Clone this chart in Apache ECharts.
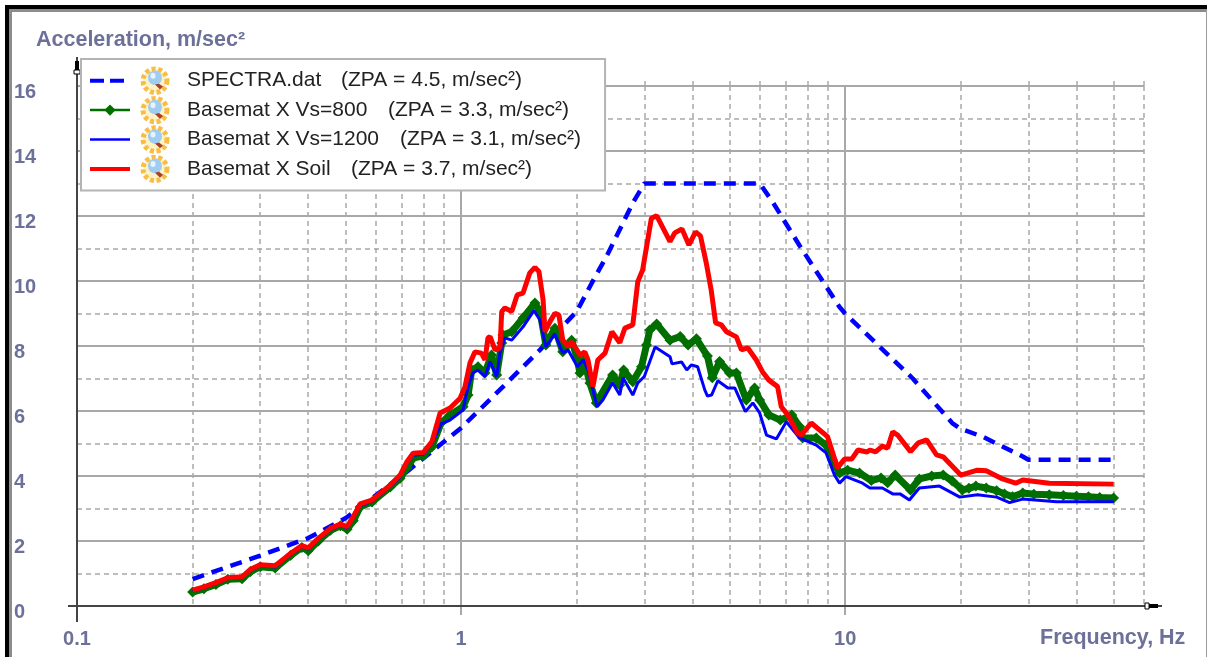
<!DOCTYPE html>
<html><head><meta charset="utf-8">
<style>html,body{margin:0;padding:0;background:#fff}#c{width:1207px;height:657px}</style>
<script src="https://cdn.jsdelivr.net/npm/echarts@6/dist/echarts.min.js"></script>
</head><body><div id="c"></div>
<script>
const majorFreqTicks=[0.1,1,10];
const minorFreqTicks=[0.2,0.3,0.4,0.5,0.6,0.7,0.8,0.9,2,3,4,5,6,7,8,9,20,30,40,50,60];

const spectraFreq=[0.2,0.3,0.4,0.5,0.7,1,1.315,1.605,2,2.19,2.39,2.8,3,6,6.5,7.6,9.67,10,15,19,20,22.8,29,30,50];
const spectraAcc=[0.83,1.55,2.09,2.7,4.0,5.48,6.86,7.88,9.06,9.94,10.75,12.4,13,13,12.4,11.1,9.2,9.0,7.0,5.63,5.45,5.21,4.6,4.5,4.5];

const vs800Freq=[0.2,0.214,0.23,0.247,0.269,0.283,0.3,0.328,0.36,0.385,0.4,0.425,0.457,0.485,0.505,0.524,0.546,0.586,0.654,0.694,0.723,0.75,0.797,0.84,0.887,0.936,1.012,1.043,1.066,1.107,1.154,1.2,1.238,1.276,1.286,1.355,1.45,1.557,1.605,1.663,1.755,1.84,1.94,2,2.04,2.09,2.165,2.25,2.48,2.59,2.65,2.8,2.95,3.04,3.1,3.23,3.5,3.72,3.9,4.1,4.38,4.51,4.71,5,5.21,5.53,5.81,5.99,6.33,6.78,7.26,7.61,7.75,8.41,8.92,9.27,9.67,10.15,10.9,11.7,12.4,12.9,13.5,14.8,15.6,16.8,18,19,20.2,21,21.9,23.3,24.8,26,27.3,29,31,34,37,40,43,46,50];
const vs800Acc=[0.43,0.53,0.66,0.82,0.84,1.06,1.21,1.17,1.56,1.8,1.7,2,2.33,2.47,2.36,2.62,3.05,3.2,3.66,3.93,4.25,4.55,4.62,4.9,5.63,5.88,6.13,6.49,7.26,7.36,7.17,7.72,7.11,8.09,8.34,8.44,8.86,9.32,9.06,8.03,8.55,7.82,8.18,7.67,7.17,7.57,6.86,6.25,7.11,6.8,7.26,6.9,7.36,8.03,8.49,8.68,8.18,8.29,8.03,8.22,7.69,7.02,7.52,7.17,7.17,6.34,6.71,6.34,5.88,5.72,5.88,5.52,5.17,5.17,4.95,4.49,4.09,4.18,4.09,3.86,3.94,3.79,4.03,3.57,3.91,4.0,4.03,3.85,3.57,3.62,3.69,3.63,3.55,3.45,3.36,3.48,3.44,3.42,3.4,3.38,3.36,3.34,3.32];

const vs1200Freq=[0.2,0.214,0.23,0.247,0.269,0.283,0.3,0.328,0.36,0.385,0.4,0.425,0.457,0.485,0.505,0.524,0.546,0.586,0.654,0.694,0.723,0.75,0.797,0.84,0.887,0.936,1.012,1.043,1.074,1.107,1.154,1.19,1.238,1.263,1.3,1.355,1.45,1.548,1.605,1.663,1.755,1.84,1.9,2.01,2.08,2.14,2.205,2.26,2.34,2.48,2.59,2.64,2.8,2.885,3,3.2,3.5,3.54,3.75,3.87,3.98,4.13,4.31,4.38,4.49,4.66,4.95,5.16,5.5,5.75,5.99,6.24,6.62,7.03,7.61,8.41,8.92,9.38,9.67,10.05,11.1,11.6,12.5,13.3,13.9,14.7,15.6,17.6,19.9,22.1,24.8,26.8,29,35.5,50];
const vs1200Acc=[0.46,0.56,0.69,0.84,0.87,1.1,1.24,1.2,1.58,1.82,1.75,2.04,2.35,2.48,2.4,2.7,3.09,3.22,3.68,3.97,4.38,4.64,4.67,5,5.6,5.72,6.03,6.75,7.17,7.26,7.06,7.52,7.06,7.78,8.25,8.18,8.59,9.09,8.8,7.97,8.37,7.78,7.88,7.36,7.57,7.26,6.65,6.13,6.34,6.87,6.49,7.02,6.49,6.86,7.06,7.97,7.67,7.45,7.51,7.26,7.42,7.36,6.65,6.46,6.49,6.93,6.71,6.71,5.98,6.25,5.94,5.26,5.14,5.67,5.17,4.95,4.71,4.03,3.78,3.98,3.78,3.63,3.63,3.45,3.45,3.26,3.63,3.69,3.35,3.42,3.35,3.18,3.29,3.21,3.21];

const soilFreq=[0.2,0.214,0.23,0.247,0.269,0.283,0.3,0.328,0.36,0.385,0.4,0.425,0.457,0.485,0.505,0.524,0.546,0.586,0.654,0.694,0.723,0.75,0.797,0.84,0.882,0.936,0.994,1.024,1.055,1.087,1.13,1.154,1.175,1.19,1.226,1.263,1.276,1.3,1.355,1.4,1.45,1.51,1.557,1.595,1.635,1.654,1.704,1.755,1.798,1.84,1.9,1.94,1.99,2.04,2.1,2.14,2.205,2.27,2.37,2.47,2.59,2.67,2.8,2.885,2.97,3.13,3.23,3.5,3.6,3.76,3.92,4.08,4.2,4.35,4.48,4.6,4.76,4.91,5.21,5.37,5.58,5.87,6.09,6.33,6.67,6.82,7.09,7.52,7.68,8.16,9,9.55,9.96,10.4,10.8,11.4,11.6,12,12.5,12.9,13.3,13.7,14.8,15.5,16.3,17.3,18,20,22.1,23.3,25.7,27.8,29,34,50];
const soilAcc=[0.49,0.59,0.72,0.87,0.9,1.13,1.27,1.24,1.62,1.86,1.79,2.08,2.39,2.52,2.44,2.75,3.14,3.26,3.72,4.03,4.44,4.7,4.72,5.06,5.94,6.09,6.39,6.75,7.48,7.82,7.78,7.57,8.25,8.29,7.88,7.94,9.06,9.17,9.06,9.57,9.63,10.25,10.42,10.29,9.42,8.44,8.75,9.01,8.95,8.18,7.98,8.13,7.93,7.72,7.82,7.57,6.75,7.57,7.78,8.44,8.1,8.55,8.65,9.98,10.34,11.93,12.01,11.21,11.48,11.6,11.11,11.51,11.39,10.55,9.72,8.71,8.65,8.44,8.28,7.88,7.94,7.57,7.21,6.95,6.75,6.13,5.88,5.32,5.26,5.63,5.21,4.25,4.52,4.52,4.8,4.74,4.8,4.74,4.92,4.86,5.36,5.26,4.75,5.02,5.11,4.65,4.59,4.03,4.18,4.16,3.91,3.78,3.88,3.78,3.75];

const seriesNames=['SPECTRA.dat','Basemat X Vs=800','Basemat X Vs=1200','Basemat X Soil'];
const zpaText=['(ZPA = 4.5, m/sec²)','(ZPA = 3.3, m/sec²)','(ZPA = 3.1, m/sec²)','(ZPA = 3.7, m/sec²)'];
const yTitle='Acceleration, m/sec²';
const xTitle='Frequency, Hz';

const zip=(a,b)=>a.map((v,i)=>[v,b[i]]);
const labelColor='#6d7099';
const tickFont={fontFamily:'Liberation Sans',fontWeight:'bold',fontSize:20,color:labelColor};
const titleFont={fontFamily:'Liberation Sans',fontWeight:'bold',fontSize:21.5,color:labelColor};
const bulbSvg='<svg xmlns="http://www.w3.org/2000/svg" width="34" height="30" viewBox="0 0 34 30">'+
 '<circle cx="17" cy="15" r="12" fill="#fff2c4" stroke="#f8bd45" stroke-width="5" stroke-dasharray="4 2.6"/>'+
 '<ellipse cx="17" cy="12" rx="7" ry="7.5" fill="#9fcdf2"/>'+
 '<ellipse cx="15" cy="10" rx="2.5" ry="3" fill="#e6f4ff"/>'+
 '<path d="M17 19l5 5l3-3l-4-3z" fill="#a8402a"/></svg>';
const bulbUri='data:image/svg+xml;charset=utf-8,'+encodeURIComponent(bulbSvg);

const nameWidths=[154,201,213,164];
const rowH=29.4;
const rich={gap:{width:3,height:rowH},bulb:{width:34,height:rowH,backgroundColor:{image:bulbUri}},gap2:{width:15,height:rowH}};
nameWidths.forEach((w,i)=>{rich['n'+i]={width:w,height:rowH,fontSize:21,fontFamily:'Liberation Sans',color:'#222'};});
rich.z={height:rowH,fontSize:21,fontFamily:'Liberation Sans',color:'#222'};

const chart=echarts.init(document.getElementById('c'),null,{renderer:'canvas'});
const axisColor='#444';
const gridColor='#a8a8a8';
chart.setOption({
 animation:false,
 backgroundColor:'#fff',
 title:[
  {text:yTitle,left:36,top:29,padding:0,textStyle:titleFont},
  {text:xTitle,left:1040,top:627,padding:0,textStyle:titleFont}
 ],
 grid:{left:77,right:63,top:86,bottom:51,containLabel:false},
 legend:{
  orient:'vertical',left:81,top:59,padding:[7,24,7,7],itemGap:0,itemWidth:40,itemHeight:14,
  backgroundColor:'#fff',borderColor:'#b4b4b4',borderWidth:2,
  data:[
   {name:seriesNames[0],lineStyle:{width:4,type:[14,6]},itemStyle:{opacity:0}},
   {name:seriesNames[1],lineStyle:{width:2.5}},
   {name:seriesNames[2],lineStyle:{width:2.5},itemStyle:{opacity:0}},
   {name:seriesNames[3],lineStyle:{width:4},itemStyle:{opacity:0}}
  ],
  formatter:n=>{const i=seriesNames.indexOf(n);return '{gap|}{bulb|}{gap2|}{n'+i+'|'+n+'}{z|'+zpaText[i]+'}';},
  textStyle:{rich}
 },
 xAxis:[
  {type:'log',logBase:10,min:0.1,max:60,
   axisLine:{show:false},
   axisTick:{show:true,customValues:majorFreqTicks,length:9,lineStyle:{color:gridColor,width:2}},
   axisLabel:{show:true,customValues:majorFreqTicks,margin:23,...tickFont},
   splitLine:{show:true,lineStyle:{color:gridColor,width:2}}},
  {type:'log',logBase:10,min:0.1,max:60,
   axisLine:{show:false},
   axisTick:{show:true,customValues:minorFreqTicks,length:9,lineStyle:{color:gridColor,width:1.5,type:[5,4]}},
   axisLabel:{show:false},
   splitLine:{show:true,lineStyle:{color:gridColor,width:1.5,type:[5,4]}}}
 ],
 yAxis:{type:'value',min:0,max:16,interval:2,
  axisLine:{show:false},axisTick:{show:false},
  axisLabel:{margin:63,align:'left',verticalAlign:'top',lineHeight:13,...tickFont},
  splitLine:{show:true,lineStyle:{color:gridColor,width:2}},
  minorSplitLine:{show:true,lineStyle:{color:gridColor,width:1.5,type:[5,4]}},
  minorTick:{show:false,splitNumber:2}},
 series:[
  {name:seriesNames[0],type:'line',data:zip(spectraFreq,spectraAcc),showSymbol:false,symbol:'none',
   itemStyle:{color:'#0000ff'},lineStyle:{color:'#0000ff',width:4.5,type:[12,8]},z:3},
  {name:seriesNames[1],type:'line',data:zip(vs800Freq,vs800Acc),symbol:'diamond',symbolSize:11,showAllSymbol:true,
   itemStyle:{color:'#006f00'},lineStyle:{color:'#006f00',width:7},z:4},
  {name:seriesNames[2],type:'line',data:zip(vs1200Freq,vs1200Acc),symbol:'none',
   itemStyle:{color:'#0000ff'},lineStyle:{color:'#0000ff',width:3},z:5},
  {name:seriesNames[3],type:'line',data:zip(soilFreq,soilAcc),symbol:'none',
   itemStyle:{color:'#ff0000'},lineStyle:{color:'#ff0000',width:5},z:6}
 ],
 graphic:[
  {type:'rect',silent:true,z:0,shape:{x:5,y:5,width:1202,height:4},style:{fill:'#000'}},
  {type:'rect',silent:true,z:0,shape:{x:5,y:5,width:4,height:652},style:{fill:'#000'}},
  {type:'rect',silent:true,z:0,shape:{x:9,y:9,width:1198,height:3},style:{fill:'#8c8c8c'}},
  {type:'rect',silent:true,z:0,shape:{x:9,y:9,width:3,height:648},style:{fill:'#8c8c8c'}},
  {type:'rect',silent:true,z:0,shape:{x:1206,y:9,width:1,height:648},style:{fill:'#9a9a9a'}},
  {type:'line',silent:true,z:1,shape:{x1:68,y1:606,x2:1162,y2:606},style:{stroke:axisColor,lineWidth:2}},
  {type:'line',silent:true,z:1,shape:{x1:77,y1:622,x2:77,y2:57},style:{stroke:axisColor,lineWidth:2}},
  {type:'rect',silent:true,z:1,shape:{x:1149,y:604,width:9,height:4},style:{fill:'#000'}},
  {type:'rect',silent:true,z:1,shape:{x:1145,y:603,width:4,height:6},style:{fill:'#fff',stroke:'#000',lineWidth:1}},
  {type:'rect',silent:true,z:1,shape:{x:75,y:61,width:4,height:9},style:{fill:'#000'}},
  {type:'rect',silent:true,z:1,shape:{x:74,y:70,width:6,height:4},style:{fill:'#fff',stroke:'#000',lineWidth:1}}
 ]
});
</script></body></html>
